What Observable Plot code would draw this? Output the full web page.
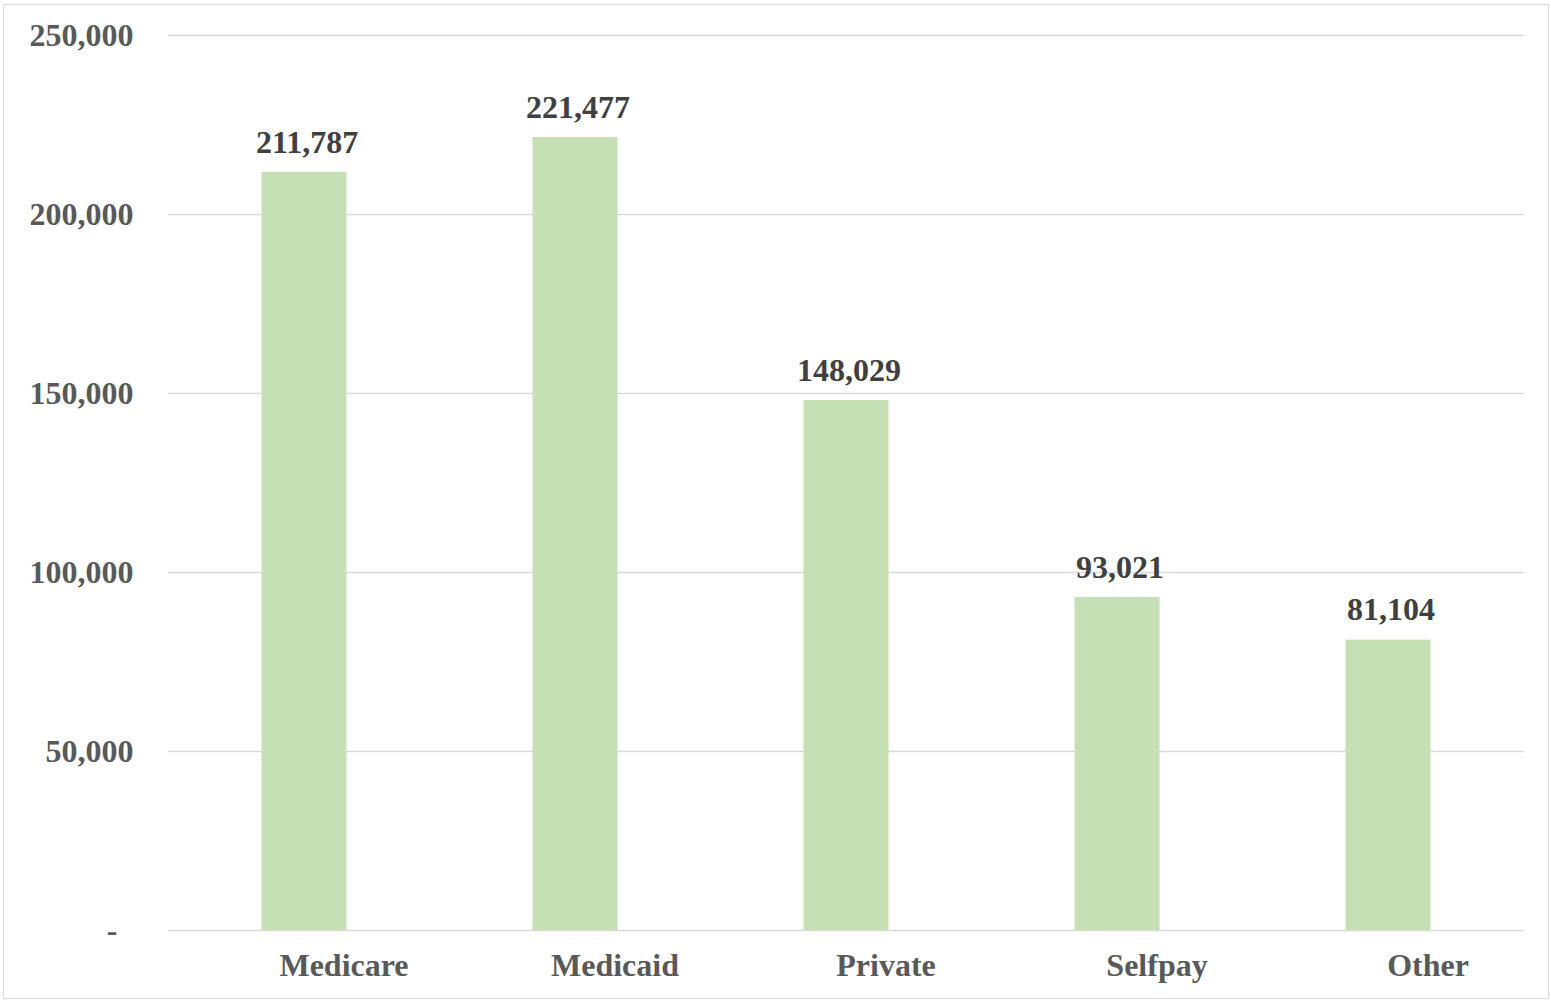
<!DOCTYPE html>
<html>
<head>
<meta charset="utf-8">
<script src="https://cdn.jsdelivr.net/npm/d3@7"></script>
<script src="https://cdn.jsdelivr.net/npm/@observablehq/plot@0.6"></script>
<style>
  html, body { margin: 0; padding: 0; background: #fff; }
  #wrap { position: relative; width: 1551px; height: 1001px; }
  #frame { position: absolute; left: 3px; top: 4px; width: 1546px; height: 995px; border: 1.5px solid #d9d9d9; box-sizing: border-box; pointer-events: none; }
  #chart { position: absolute; left: 0; top: 0; }
</style>
</head>
<body>
<div id="wrap"><div id="chart"></div><div id="frame"></div></div>
<script>
const categories = ["Medicare", "Medicaid", "Private", "Selfpay", "Other"];
const values = [211787, 221477, 148029, 93021, 81104];
const yTicks = [0, 50000, 100000, 150000, 200000, 250000];

const data = categories.map((c, i) => ({category: c, value: values[i]}));
const fmt = d3.format(",");
const font = "'Liberation Serif', 'Times New Roman', serif";

const chart = Plot.plot({
  width: 1551,
  height: 1001,
  marginLeft: 168,
  marginRight: 27,
  marginTop: 35,
  marginBottom: 71,
  style: {fontFamily: font, background: "transparent"},
  x: {domain: categories, paddingInner: 0.686, paddingOuter: 0.343, label: null},
  y: {domain: [0, 250000], label: null},
  marks: [
    Plot.gridY(yTicks, {stroke: "#d9d9d9", strokeOpacity: 1, strokeWidth: 1.5}),
    Plot.barY(data, {x: "category", y: "value", fill: "#c5e0b4", dx: 0.5}),
    Plot.text(data, {x: "category", y: "value", text: d => fmt(d.value), dy: -30, dx: 3, fill: "#404040", fontSize: 32, fontWeight: "bold", fontFamily: font}),
    Plot.axisY(yTicks, {tickSize: 0, tickPadding: 35, fontSize: 32, fontWeight: "bold", fill: "#595959", label: null,
      tickFormat: d => d === 0 ? "-\u00a0\u00a0" : fmt(d)}),
    Plot.axisX({tickSize: 0, tickPadding: 23, dx: 40, fontSize: 32, fontWeight: "bold", fill: "#595959", label: null})
  ]
});
document.getElementById("chart").appendChild(chart);
</script>
</body>
</html>
